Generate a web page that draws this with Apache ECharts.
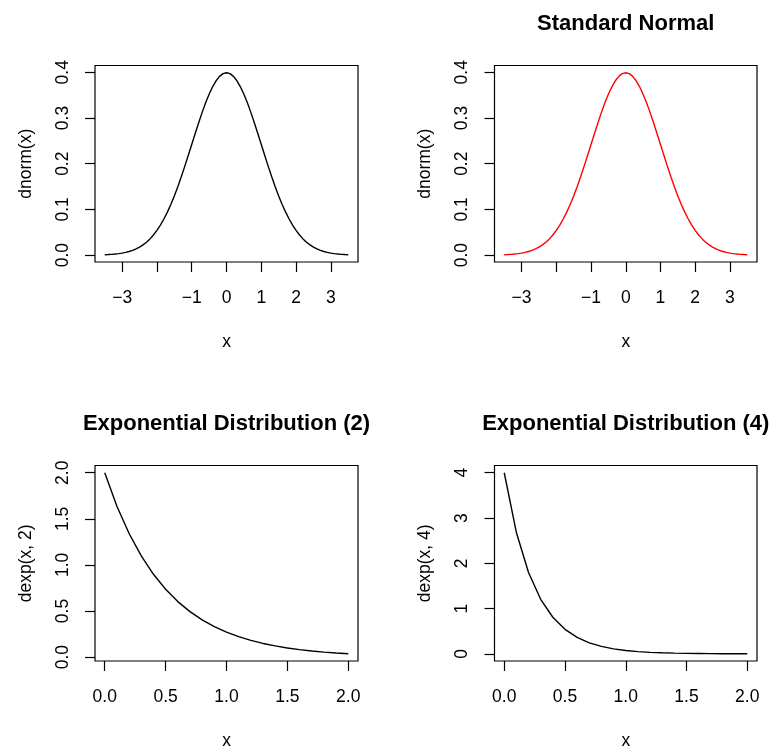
<!DOCTYPE html>
<html>
<head>
<meta charset="utf-8">
<script src="https://cdn.jsdelivr.net/npm/echarts@6/dist/echarts.min.js"></script>
<style>
html,body{margin:0;padding:0;background:#fff;}
#chart{width:773px;height:751px;}
</style>
</head>
<body>
<div id="chart"></div>
<script>
// ---- data ----
const normX = [-3.5,-3.4,-3.3,-3.2,-3.1,-3.0,-2.9,-2.8,-2.7,-2.6,-2.5,-2.4,-2.3,-2.2,-2.1,-2.0,-1.9,-1.8,-1.7,-1.6,-1.5,-1.4,-1.3,-1.2,-1.1,-1.0,-0.9,-0.8,-0.7,-0.6,-0.5,-0.4,-0.3,-0.2,-0.1,0.0,0.1,0.2,0.3,0.4,0.5,0.6,0.7,0.8,0.9,1.0,1.1,1.2,1.3,1.4,1.5,1.6,1.7,1.8,1.9,2.0,2.1,2.2,2.3,2.4,2.5,2.6,2.7,2.8,2.9,3.0,3.1,3.2,3.3,3.4,3.5];
const normY = [0.0009,0.0012,0.0017,0.0024,0.0033,0.0044,0.0060,0.0079,0.0104,0.0136,0.0175,0.0224,0.0283,0.0355,0.0440,0.0540,0.0656,0.0790,0.0940,0.1109,0.1295,0.1497,0.1714,0.1942,0.2179,0.2420,0.2661,0.2897,0.3123,0.3332,0.3521,0.3683,0.3814,0.3910,0.3970,0.3989,0.3970,0.3910,0.3814,0.3683,0.3521,0.3332,0.3123,0.2897,0.2661,0.2420,0.2179,0.1942,0.1714,0.1497,0.1295,0.1109,0.0940,0.0790,0.0656,0.0540,0.0440,0.0355,0.0283,0.0224,0.0175,0.0136,0.0104,0.0079,0.0060,0.0044,0.0033,0.0024,0.0017,0.0012,0.0009];
const expX = [0.0,0.1,0.2,0.3,0.4,0.5,0.6,0.7,0.8,0.9,1.0,1.1,1.2,1.3,1.4,1.5,1.6,1.7,1.8,1.9,2.0];
const exp2Y = [2.0000,1.6375,1.3406,1.0976,0.8987,0.7358,0.6024,0.4932,0.4038,0.3306,0.2707,0.2216,0.1814,0.1485,0.1216,0.0996,0.0815,0.0667,0.0546,0.0447,0.0366];
const exp4Y = [4.0000,2.6813,1.7973,1.2048,0.8076,0.5413,0.3629,0.2432,0.1631,0.1093,0.0733,0.0491,0.0329,0.0221,0.0148,0.0099,0.0067,0.0045,0.0030,0.0020,0.0013];

const normXTicks = [-3,-2,-1,0,1,2,3];
const normXLabels = ['\u22123','','\u22121','0','1','2','3'];
const normYTicks = [0,0.1,0.2,0.3,0.4];
const normYLabels = ['0.0','0.1','0.2','0.3','0.4'];
const expXTicks = [0,0.5,1,1.5,2];
const expXLabels = ['0.0','0.5','1.0','1.5','2.0'];
const exp2YTicks = [0,0.5,1,1.5,2];
const exp2YLabels = ['0.0','0.5','1.0','1.5','2.0'];
const exp4YTicks = [0,1,2,3,4];
const exp4YLabels = ['0','1','2','3','4'];

const panels = [
  {title:'', xName:'x', yName:'dnorm(x)', x:normX, y:normY, color:'#000000',
   xr:[-3.78,3.78], yr:[-0.01505,0.41486], xt:normXTicks, xl:normXLabels, yt:normYTicks, yl:normYLabels,
   grid:{left:95, top:65.5, width:263, height:196.5}},
  {title:'Standard Normal', xName:'x', yName:'dnorm(x)', x:normX, y:normY, color:'#FF0000',
   xr:[-3.78,3.78], yr:[-0.01505,0.41486], xt:normXTicks, xl:normXLabels, yt:normYTicks, yl:normYLabels,
   grid:{left:494.5, top:65.5, width:262.5, height:196.5}},
  {title:'Exponential Distribution (2)', xName:'x', yName:'dexp(x, 2)', x:expX, y:exp2Y, color:'#000000',
   xr:[-0.08,2.08], yr:[-0.04195,2.07854], xt:expXTicks, xl:expXLabels, yt:exp2YTicks, yl:exp2YLabels,
   grid:{left:95, top:465.5, width:263, height:195.5}},
  {title:'Exponential Distribution (4)', xName:'x', yName:'dexp(x, 4)', x:expX, y:exp4Y, color:'#000000',
   xr:[-0.08,2.08], yr:[-0.1586,4.1599], xt:expXTicks, xl:expXLabels, yt:exp4YTicks, yl:exp4YLabels,
   grid:{left:494.5, top:465.5, width:262.5, height:195.5}}
];

const FONT = 'Liberation Sans, Arial, Helvetica, sans-serif';
const FS = 17.5;
const option = {
  animation:false,
  backgroundColor:'#ffffff',
  title:[], grid:[], xAxis:[], yAxis:[], series:[]
};
panels.forEach((p, i) => {
  option.grid.push(Object.assign({show:true, borderColor:'#000', borderWidth:1.2, backgroundColor:'transparent', containLabel:false}, p.grid));
  if (p.title) {
    option.title.push({
      text:p.title, left:p.grid.left + p.grid.width/2, top:p.grid.top - 53,
      textAlign:'center', padding:0,
      textStyle:{fontFamily:FONT, fontSize:22, fontWeight:'bold', color:'#000'}
    });
  }
  const xmap = {}; p.xt.forEach((v,k)=>{ xmap[String(v)] = p.xl[k]; });
  const ymap = {}; p.yt.forEach((v,k)=>{ ymap[String(v)] = p.yl[k]; });
  option.xAxis.push({
    type:'value', gridIndex:i, min:p.xr[0], max:p.xr[1], position:'bottom',
    name:p.xName, nameLocation:'middle', nameGap:71,
    nameTextStyle:{fontFamily:FONT, fontSize:FS, color:'#000'},
    axisLine:{show:false, onZero:false},
    axisTick:{show:true, inside:false, length:10, customValues:p.xt, lineStyle:{color:'#000', width:1.2}},
    axisLabel:{show:true, margin:27, customValues:p.xt.filter((v,k)=>p.xl[k] !== ''), fontFamily:FONT, fontSize:FS, color:'#000',
      formatter:(v)=> xmap[String(v)] !== undefined ? xmap[String(v)] : String(v)},
    splitLine:{show:false}
  });
  option.yAxis.push({
    type:'value', gridIndex:i, min:p.yr[0], max:p.yr[1], position:'left',
    name:p.yName, nameLocation:'middle', nameGap:60,
    nameTextStyle:{fontFamily:FONT, fontSize:FS, color:'#000'},
    axisLine:{show:false, onZero:false},
    axisTick:{show:true, inside:false, length:10, customValues:p.yt, lineStyle:{color:'#000', width:1.2}},
    axisLabel:{show:true, rotate:90, margin:23, customValues:p.yt, fontFamily:FONT, fontSize:FS, color:'#000',
      formatter:(v)=> ymap[String(v)] !== undefined ? ymap[String(v)] : String(v)},
    splitLine:{show:false}
  });
  option.series.push({
    type:'line', xAxisIndex:i, yAxisIndex:i, showSymbol:false, symbol:'none',
    lineStyle:{color:p.color, width:1.4}, silent:true,
    data:p.x.map((xv,k)=>[xv, p.y[k]])
  });
});
const chart = echarts.init(document.getElementById('chart'), null, {renderer:'canvas'});
chart.setOption(option);
</script>
</body>
</html>
